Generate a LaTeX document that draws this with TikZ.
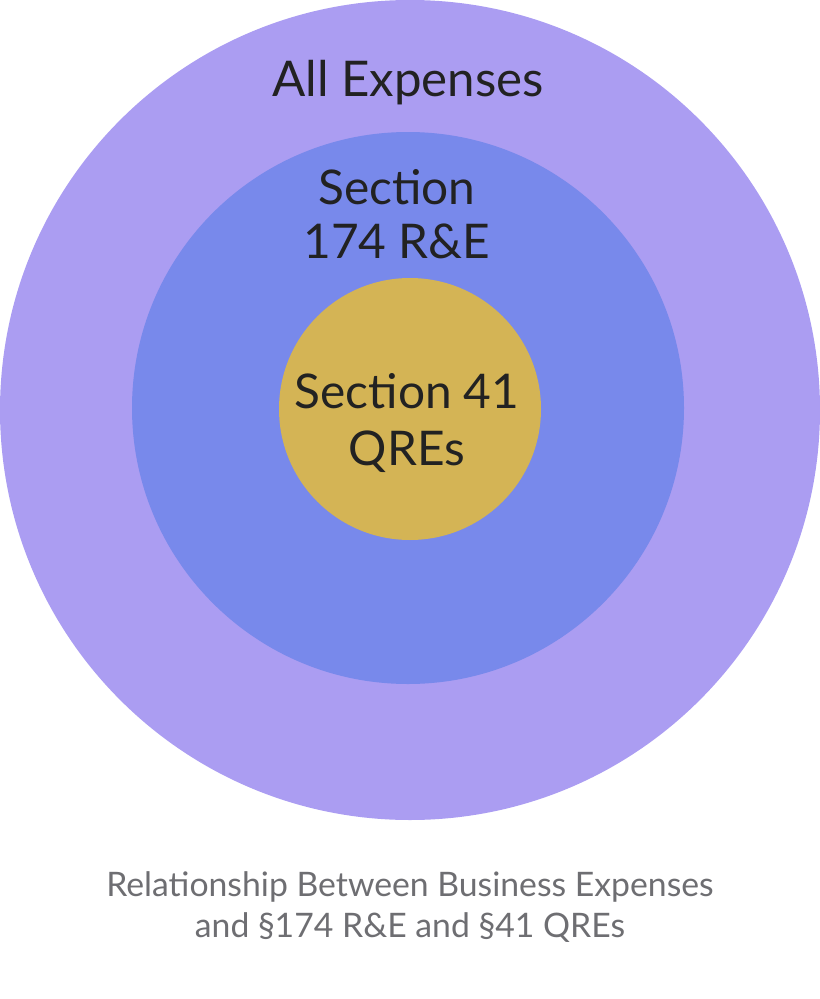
\documentclass[tikz,border=0pt]{standalone}
\usepackage{fontspec}
\setmainfont{Lato}
\definecolor{allexp}{HTML}{AB9DF2}
\definecolor{secre}{HTML}{7889EB}
\definecolor{secqre}{HTML}{D4B455}
\definecolor{inktext}{HTML}{222222}
\definecolor{capgray}{HTML}{6E6E72}
\begin{document}
\begin{tikzpicture}[x = .025cm, y = -.025cm]
	\useasboundingbox (0,0) rectangle (820,999);
	\fill[allexp] (410,410) circle (410);
	\fill[secre] (408,408) circle (276);
	\fill[secqre] (410,409) circle (131);
	\node[text = inktext, font = \fontsize{35}{35}\selectfont] (all) at (408,83) {All Expenses};
	\node[text = inktext, font = \fontsize{34}{38}\selectfont, align = center] (re) at (397,214) {Section\\174 R\&E};
	\node[text = inktext, font = \fontsize{34}{41}\selectfont, align = center] (qre) at (407,423) {Section 41\\QREs};
	\node[text = capgray, font = \fontsize{24}{29}\selectfont, align = center] (cap) at (410,907) {Relationship Between Business Expenses\\and \S174 R\&E and \S41 QREs};
\end{tikzpicture}
\end{document}
